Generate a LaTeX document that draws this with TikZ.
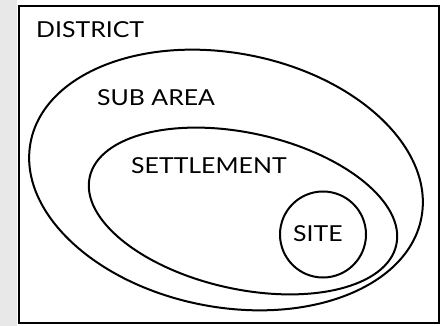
\documentclass[tikz,border=0pt]{standalone}
\usepackage{fontspec}
\setmainfont[FakeStretch=1.13]{Lato}
\begin{document}
\begin{tikzpicture}[x=1pt,y=-1pt,
  lbl/.style={anchor=base west,inner sep=0pt,font=\fontsize{22}{24}\selectfont},
  shp/.style={draw=black,line width=2pt}]
\useasboundingbox (0,0) rectangle (445,326);
\fill[gray!18] (0,0) rectangle (17,326);
\draw[line width=2pt] (19,6) rectangle (439,323);
\draw[shp,rotate around={-11:(226,180)}] (226,180) ellipse [x radius=199, y radius=127];
\draw[shp,rotate around={-12.5:(243,211)}] (243,211) ellipse [x radius=157, y radius=78];
\draw[shp] (323,234.5) circle [radius=43];
\node[lbl] (district) at (36,37.3) {DISTRICT};
\node[lbl] (subarea) at (97,105.7) {SUB AREA};
\node[lbl] (settlement) at (131,173.3) {SETTLEMENT};
\node[lbl] (site) at (293,241.7) {SITE};
\end{tikzpicture}
\end{document}
